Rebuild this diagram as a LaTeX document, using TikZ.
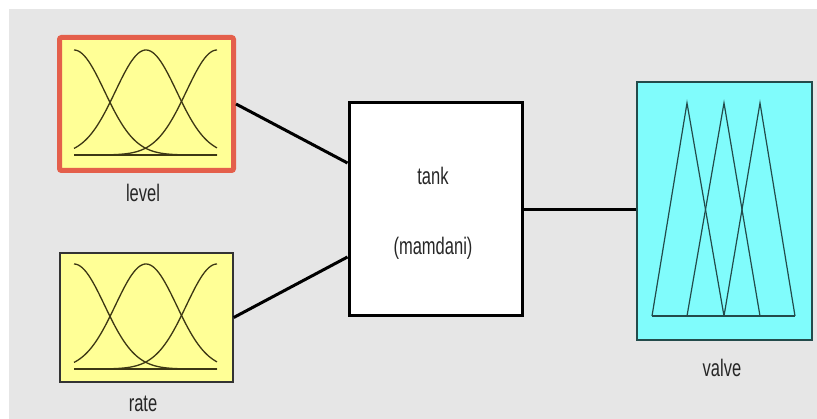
\documentclass[tikz,border=0pt]{standalone}
\usepackage{fontspec}
\setmainfont{Liberation Sans}
\usetikzlibrary{calc}
\definecolor{panelgray}{RGB}{230,230,230}
\definecolor{mfyellow}{RGB}{255,255,150}
\definecolor{mfred}{RGB}{228,95,75}
\definecolor{mfcyan}{RGB}{128,252,252}
\definecolor{mfteal}{RGB}{35,75,75}
\definecolor{curveol}{RGB}{60,55,20}

\tikzset{
  varbox/.style={draw, line width=1.5pt, minimum width=173pt, minimum height=129pt, inner sep=0pt},
  lbl/.style={font=\fontsize{16.5}{18}\selectfont, text=black!85, yscale=1.45, transform shape},
  wire/.style={line width=3pt}
}

\begin{document}
\begin{tikzpicture}[x=1pt,y=-1pt]

% ── Panel ─────────────────────────────────────────────────────────────
\useasboundingbox (0,0) rectangle (817,419);
\fill[white] (0,0) rectangle (817,419);
\fill[panelgray] (9,9) rectangle (817,419);

% Input boxes
\node[varbox, draw=mfred, line width=5pt, fill=mfyellow, rounded corners=2pt,
      minimum width=174pt, minimum height=133pt] (level) at (146.5,104) {};
\node[varbox, draw=black!80, fill=mfyellow] (rate) at (146.5,317.5) {};

% Rule block
\node[varbox, line width=3pt, fill=white, minimum height=213pt] (tank) at (435.5,209.5) {};

% Output box
\node[varbox, draw=mfteal, fill=mfcyan, minimum width=175pt, minimum height=258pt]
      (valve) at (724.5,211) {};

% Gaussian membership functions
\foreach \base in {155,369} {
  \foreach \c in {74,146,217} {
    \draw[curveol, line width=1.3pt] plot[domain=74:217, samples=70, smooth]
         (\x, {\base-105*exp(-(((\x-\c)/10)^2)/18.72)});
  }
  \draw[curveol, line width=1.6pt] (74,\base) -- (217,\base);
}

% Triangular membership functions
\foreach \l/\p/\r in {652/687/724, 687/724/760, 724/760/795} {
  \draw[mfteal, line width=1.2pt] (\l,316) -- (\p,103) -- (\r,316);
}
\draw[mfteal, line width=1.4pt] (652,316) -- (795,316);

% Connectors
\draw[wire] (level.east) -- ($(tank.west)+(0,-46.5)$);
\draw[wire] (rate.east) -- ($(tank.west)+(0,47.5)$);
\draw[wire] (tank.east) -- (tank.east -| valve.west);

% Labels
\node[lbl] (levellbl) at (143,193) {level};
\node[lbl] (ratelbl) at (143,404) {rate};
\node[lbl] (valvelbl) at (722,368) {valve};
\node[lbl] (tankname) at (433,176) {tank};
\node[lbl] (tanktype) at (433,248) {(mamdani)};

\end{tikzpicture}
\end{document}
